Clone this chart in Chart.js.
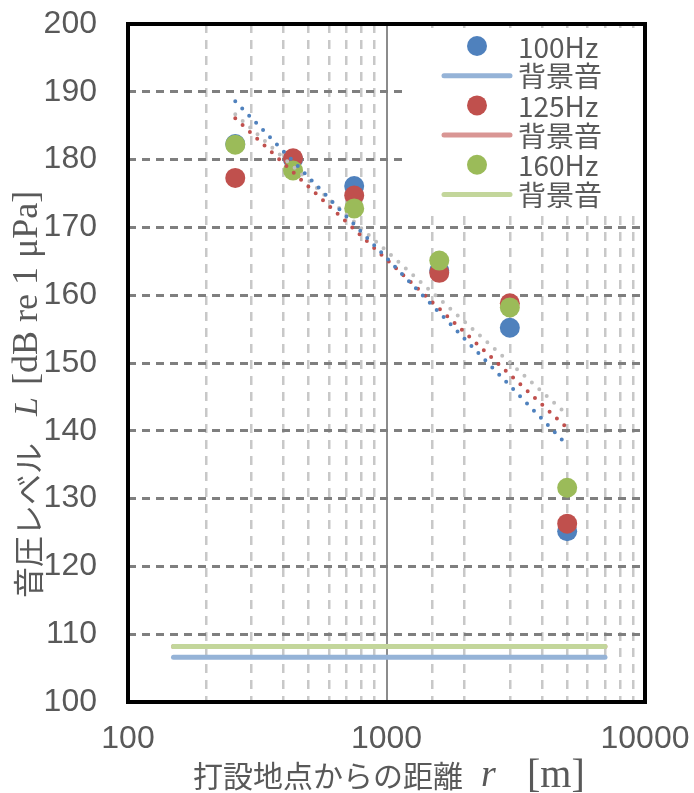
<!DOCTYPE html>
<html>
<head>
<meta charset="utf-8">
<script src="https://cdn.jsdelivr.net/npm/chart.js@4.4.0/dist/chart.umd.min.js"></script>
<style>
  html, body { margin: 0; padding: 0; background: #fff; }
  #wrap { width: 694px; height: 793px; }
</style>
</head>
<body>
<div id="wrap"><canvas id="chart" width="694" height="793"></canvas></div>
<script>
// measured levels at each distance from the piling site
const distances = [260, 435, 750, 1600, 3000, 5000];
const level100 = [182.3, 180.0, 176.1, 163.6, 155.2, 125.2];
const level125 = [177.3, 180.2, 174.7, 163.3, 158.8, 126.3];
const level160 = [182.2, 178.4, 172.8, 165.1, 158.2, 131.6];

// background noise (flat lines)
const bgRange = [150, 7000];
const bg100 = [106.6, 106.6];
const bg125 = [108.2, 108.2];
const bg160 = [108.2, 108.2];

// dotted trend lines, end points
const trendRange = [260, 5000];
const trend100 = [188.6, 137.9];
const trend125 = [186.1, 140.4];
const trend160 = [186.7, 142.4];

const xLabels = [100, 1000, 10000];
const seriesNames = ['100Hz', '背景音', '125Hz', '背景音', '160Hz', '背景音'];

const blue = '#4F81BD', red = '#C0504D', green = '#9BBB59';
const blueBg = '#95B3D7', redBg = '#D99694', greenBg = '#C3D69B';
const grayTrend = '#BFBFBF';
const textGray = '#595959';
const jpFont = '"Noto Sans CJK JP"';
const serif = '"Liberation Serif"';

function pts(xs, ys) {
  return xs.map((x, i) => ({ x: x, y: ys[i] }));
}

function scatterSet(label, ys, color, order) {
  return {
    type: 'scatter', label: label, data: pts(distances, ys),
    backgroundColor: color, borderColor: color, borderWidth: 0,
    pointRadius: 10, pointHoverRadius: 10, order: order
  };
}

function flatSet(label, ys, color, order) {
  return {
    type: 'line', label: label, data: pts(bgRange, ys),
    borderColor: color, backgroundColor: color, borderWidth: 5,
    borderCapStyle: 'round', pointRadius: 0, fill: false, order: order
  };
}

function trendSet(ys, color) {
  return {
    type: 'line', data: pts(trendRange, ys), borderColor: color,
    borderWidth: 4, borderDash: [0, 10], borderCapStyle: 'round',
    pointRadius: 0, fill: false, order: 0, noLegend: true
  };
}

// frame, legend box and axis titles
const decor = {
  id: 'decor',
  afterDraw(chart) {
    const ctx = chart.ctx;
    const a = chart.chartArea;
    ctx.save();

    // legend
    ctx.fillStyle = '#fff';
    ctx.fillRect(402, 28, 240, 184);
    let row = 0;
    chart.data.datasets.forEach(ds => {
      if (ds.noLegend) return;
      const y = 46 + row * 29.7;
      if (ds.type === 'scatter') {
        ctx.fillStyle = ds.backgroundColor;
        ctx.beginPath();
        ctx.arc(477, y, 10, 0, Math.PI * 2);
        ctx.fill();
      } else {
        ctx.strokeStyle = ds.borderColor;
        ctx.lineWidth = 5;
        ctx.lineCap = 'round';
        ctx.beginPath();
        ctx.moveTo(444, y);
        ctx.lineTo(510, y);
        ctx.stroke();
      }
      ctx.fillStyle = textGray;
      ctx.font = '28px ' + jpFont;
      ctx.textBaseline = 'middle';
      ctx.textAlign = 'left';
      ctx.fillText(ds.label, 518, y + 1);
      row++;
    });

    // frame
    ctx.strokeStyle = '#000';
    ctx.lineWidth = 4;
    ctx.strokeRect(a.left, a.top, a.right - a.left, a.bottom - a.top);

    // axis titles: [text, font, offset along the baseline]
    function placeText(parts, x0, y0) {
      parts.forEach(p => {
        ctx.font = p[1];
        ctx.fillText(p[0], x0 + p[2], y0);
      });
    }
    ctx.fillStyle = textGray;
    ctx.textBaseline = 'middle';
    ctx.textAlign = 'left';
    placeText([
      ['打設地点からの距離', '30px ' + jpFont, 0],
      ['r', 'italic 38px ' + serif, 288],
      ['[m]', '40px ' + serif, 334]
    ], 193, 776);

    ctx.translate(28, 598);
    ctx.rotate(-Math.PI / 2);
    placeText([
      ['音圧レベル', '31px ' + jpFont, 0],
      ['L', 'italic 34px ' + serif, 182],
      ['[dB re 1 μPa]', '36px ' + serif, 213]
    ], 0, 0);
    ctx.restore();
  }
};

Chart.defaults.font.family = '"Liberation Sans", Arial, sans-serif';

new Chart(document.getElementById('chart'), {
  type: 'scatter',
  data: {
    datasets: [
      scatterSet(seriesNames[0], level100, blue, 3),
      flatSet(seriesNames[1], bg100, blueBg, 6),
      scatterSet(seriesNames[2], level125, red, 2),
      flatSet(seriesNames[3], bg125, redBg, 5),
      scatterSet(seriesNames[4], level160, green, 1),
      flatSet(seriesNames[5], bg160, greenBg, 4),
      trendSet(trend100, blue),
      trendSet(trend125, red),
      trendSet(trend160, grayTrend)
    ]
  },
  options: {
    responsive: false,
    animation: false,
    layout: { padding: { left: 0, right: 49, top: 24, bottom: 0 } },
    plugins: {
      legend: { display: false },
      tooltip: { enabled: false }
    },
    scales: {
      x: {
        type: 'logarithmic',
        min: 100,
        max: 10000,
        afterFit: s => {
          s.height = 91;
          s.paddingLeft = 0;
          s.paddingRight = 0;
        },
        border: {
          display: false,
          dash: c => (c.tick && c.tick.value === 1000) ? [] : [9, 7]
        },
        grid: {
          drawTicks: false,
          color: c => (c.tick && c.tick.value === 1000) ? '#8C8C8C' : '#C8C8C8',
          lineWidth: c => (c.tick && c.tick.value === 1000) ? 2 : 2.5
        },
        ticks: {
          autoSkip: false,
          maxRotation: 0,
          padding: 18,
          color: textGray,
          font: { size: 32 },
          callback: v => xLabels.includes(v) ? String(v) : ''
        }
      },
      y: {
        min: 100,
        max: 200,
        afterFit: s => {
          s.width = 128;
          s.paddingTop = 0;
          s.paddingBottom = 0;
        },
        border: { display: false, dash: [8, 6] },
        grid: { drawTicks: false, color: '#7F7F7F', lineWidth: 3 },
        ticks: {
          stepSize: 10,
          padding: 31,
          color: textGray,
          font: { size: 32 }
        }
      }
    }
  },
  plugins: [decor]
});
</script>
</body>
</html>
